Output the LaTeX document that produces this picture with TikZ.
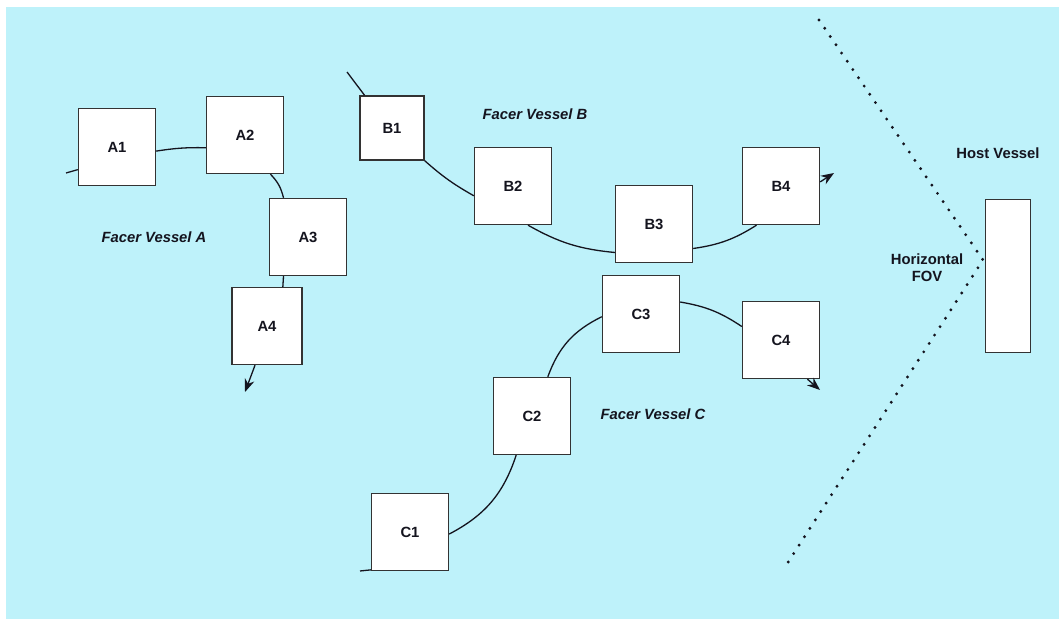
\documentclass[tikz,border=0pt]{standalone}
\usepackage{fontspec}
\setmainfont{Liberation Sans}
\usepackage{tikz}
\usetikzlibrary{arrows.meta}
\definecolor{SeaCyan}{RGB}{190,242,250}
\definecolor{BoxLine}{RGB}{51,51,51}
\definecolor{Ink}{RGB}{20,20,30}

\begin{document}
\begin{tikzpicture}[
    x=1pt, y=1pt,
    every node/.style={font=\fontsize{14.8}{17}\selectfont\bfseries, text=Ink},
    vessel/.style={draw=BoxLine, line width=1.4pt, fill=white, inner sep=0pt,
                   minimum width=77pt, minimum height=77pt},
    track/.style={draw=Ink, line width=1.3pt},
    heading/.style={track, -{Stealth[length=13pt,width=10pt]}},
    caption/.style={font=\fontsize{14.8}{17}\selectfont\bfseries\itshape},
]
\useasboundingbox (0,0) rectangle (1059,619);
\fill[SeaCyan] (6,0) rectangle (1059,612);

\node[vessel] (A1) at (117,472) {A1};
\node[vessel] (A2) at (245,484) {A2};
\node[vessel] (A3) at (308,382) {A3};
\node[vessel, minimum width=70pt] (A4) at (267,293) {A4};

\node[vessel, minimum width=64pt, minimum height=64pt] (B1) at (392,491) {B1};
\node[vessel] (B2) at (513,433) {B2};
\node[vessel] (B3) at (654,395) {B3};
\node[vessel] (B4) at (781,433) {B4};

\node[vessel] (C1) at (410,87) {C1};
\node[vessel] (C2) at (532,203) {C2};
\node[vessel] (C3) at (641,305) {C3};
\node[vessel] (C4) at (781,279) {C4};

\node[vessel, minimum width=45pt, minimum height=153pt] (host) at (1008,343) {};

\node[caption] (labA) at (154,382) {Facer Vessel A};
\node[caption] (labB) at (535,505) {Facer Vessel B};
\node[caption] (labC) at (653,205) {Facer Vessel C};
\node (hostlab) at (998,466) {Host Vessel};
\node[align=center] (fovlab) at (927,351) {Horizontal\\FOV};

\coordinate (stubA) at (66,446);
\coordinate (stubB) at (347,547);
\coordinate (stubC) at (360,48);
\coordinate (arrA) at (245,227);
\coordinate (arrB) at (834,446);
\coordinate (arrC) at (820,229);

\draw[track] (stubA) -- (A1.210);
\draw[track] (A1.-6) to[bend left=5] (A2.198);
\draw[track] (A2.-57) to[bend left=15] (A3.122);
\draw[track] (A3.-122) -- (A4.68);
\draw[heading] (A4.-107) -- (arrA);

\draw[track] (stubB) -- (B1.130);
\draw[track] (B1.south east) to[bend right=6] (B2.194);
\draw[track] (B2.-69) to[bend right=12] (B3.216);
\draw[track] (B3.-32) to[bend right=12] (B4.-122);
\draw[heading] (B4.6) -- (arrB);

\draw[track] (stubC) -- (C1.224);
\draw[track] (C1.-3) to[bend right=22] (C2.-112);
\draw[track] (C2.68) to[bend left=22] (C3.184);
\draw[track] (C3.17) to[bend left=12] (C4.161);
\draw[heading] (C4.-56) -- (arrC);

% field of view of the host
\coordinate (fovtop) at (819,599);
\coordinate (fovapex) at (983,359);
\coordinate (fovbot) at (783,49);
\draw[Ink, line width=3.2pt, line cap=round, dash pattern=on 0pt off 10pt]
    (fovtop) -- (fovapex) -- (fovbot);
\end{tikzpicture}
\end{document}
